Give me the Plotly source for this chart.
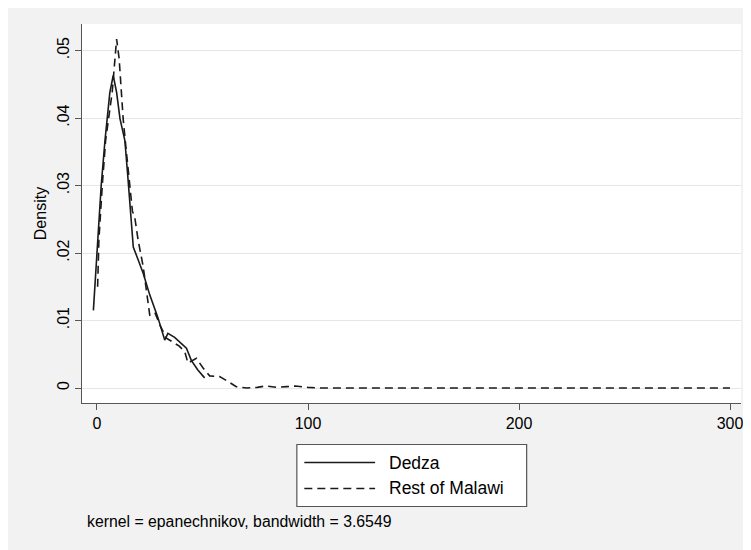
import plotly.graph_objects as go

# ---- data (kernel density estimates) ----
dedza_x = [-1.7, 0.3, 2.0, 3.8, 6.1, 7.7, 9.3, 10.9, 13.2, 14.5, 15.6, 16.9, 17.2,
           19.5, 21.9, 25.0, 28.8, 32.1, 33.6, 36.8, 40.0, 42.4, 44.7, 47.7, 51.0]
dedza_y = [0.0115, 0.0219, 0.0300, 0.0367, 0.0438, 0.0463, 0.0438, 0.0399, 0.0367, 0.0318,
           0.0268, 0.0219, 0.0209, 0.0190, 0.0170, 0.0138, 0.0105, 0.0071, 0.0081, 0.0075,
           0.0065, 0.0059, 0.0041, 0.0027, 0.0015]

rest_x = [0.3, 0.9, 2.5, 4.1, 7.2, 9.3, 10.5, 12.4, 13.6, 15.1, 16.8, 17.9, 19.5, 21.9,
          24.2, 25.0, 27.4, 30.0, 32.9, 36.0, 39.0, 41.6, 43.1, 47.1, 50.2, 53.4, 58.1,
          62.0, 66.0, 71.0, 76.0, 80.0, 85.0, 90.0, 94.0, 100.0, 106.0, 150.0, 200.0,
          250.0, 300.0]
rest_y = [0.0150, 0.0219, 0.0300, 0.0367, 0.0438, 0.0517, 0.0488, 0.0399, 0.0360, 0.0318,
          0.0262, 0.0253, 0.0219, 0.0180, 0.0120, 0.0108, 0.0112, 0.0092, 0.0074, 0.0068,
          0.0062, 0.0054, 0.0037, 0.0044, 0.0030, 0.0018, 0.0017, 0.0010, 0.0002, 0.0000,
          0.0001, 0.0003, 0.0001, 0.0002, 0.0003, 0.0001, 0.0000, 0.0000, 0.0000, 0.0000,
          0.0000]

series_names = ["Dedza", "Rest of Malawi"]
y_tickvals = [0, 0.01, 0.02, 0.03, 0.04, 0.05]
y_ticktext = ["0", ".01", ".02", ".03", ".04", ".05"]
x_tickvals = [0, 100, 200, 300]
note_text = "kernel = epanechnikov, bandwidth = 3.6549"

# figure sits inside the page's 8px body margin
W, H = 743, 542
ML, MR, MT, MB = 74, 8, 16, 147
PW, PH = W - ML - MR, H - MT - MB
OFF = 8  # page offset of the figure

FONT = "Liberation Sans, Arial, Helvetica, sans-serif"
INK = "#1a1a1a"
GRAY_BG = "#f2f2f2"

fig = go.Figure()
fig.add_trace(go.Scatter(x=dedza_x, y=dedza_y, mode="lines", name=series_names[0],
                         line=dict(color=INK, width=1.6), showlegend=False))
fig.add_trace(go.Scatter(x=rest_x, y=rest_y, mode="lines", name=series_names[1],
                         line=dict(color=INK, width=1.6, dash="8px,5px"), showlegend=False))


def px_x(p):
    """screen pixel x -> paper x"""
    return (p - OFF - ML) / PW


def px_y(p):
    """screen pixel y -> paper y"""
    return (MT + PH - (p - OFF)) / PH


shapes = [
    # legend box
    dict(type="rect", xref="paper", yref="paper", x0=px_x(297.5), x1=px_x(528),
         y0=px_y(506.5), y1=px_y(444.5), fillcolor="white",
         line=dict(color="#555555", width=1.2)),
    dict(type="line", xref="paper", yref="paper", x0=px_x(305), x1=px_x(376),
         y0=px_y(462.5), y1=px_y(462.5), line=dict(color=INK, width=1.6)),
    dict(type="line", xref="paper", yref="paper", x0=px_x(305), x1=px_x(376),
         y0=px_y(488.5), y1=px_y(488.5), line=dict(color=INK, width=1.6, dash="8px,5px")),
]

annotations = [
    dict(text=series_names[0], xref="paper", yref="paper", x=px_x(388), y=px_y(462.5),
         xanchor="left", yanchor="middle", showarrow=False,
         font=dict(family=FONT, size=17.5, color="black")),
    dict(text=series_names[1], xref="paper", yref="paper", x=px_x(388), y=px_y(488.5),
         xanchor="left", yanchor="middle", showarrow=False,
         font=dict(family=FONT, size=17.5, color="black")),
    dict(text=note_text, xref="paper", yref="paper", x=px_x(85), y=px_y(521),
         xanchor="left", yanchor="middle", showarrow=False,
         font=dict(family=FONT, size=15.8, color="black")),
]

fig.update_layout(
    width=W, height=H,
    margin=dict(l=ML, r=MR, t=MT, b=MB, pad=0),
    paper_bgcolor=GRAY_BG,
    plot_bgcolor="white",
    font=dict(family=FONT, size=16, color="black"),
    shapes=shapes,
    annotations=annotations,
    showlegend=False,
)
fig.update_xaxes(
    range=[-7.1, 305.2], tickvals=x_tickvals, showgrid=False, zeroline=False,
    showline=True, linecolor="#555555", linewidth=1,
    ticks="outside", ticklen=6, tickcolor="#555555", tickwidth=1,
    tickfont=dict(family=FONT, size=16, color="black"),
)
fig.update_yaxes(
    range=[-0.00222, 0.05393], tickvals=y_tickvals, ticktext=y_ticktext,
    showgrid=True, gridcolor="#e6e6e6", gridwidth=1, zeroline=False,
    showline=True, linecolor="#555555", linewidth=1,
    ticks="outside", ticklen=6, tickcolor="#555555", tickwidth=1,
    tickangle=-90, tickfont=dict(family=FONT, size=16, color="black"),
    title=dict(text="Density", font=dict(family=FONT, size=16, color="black"), standoff=3),
)

fig.write_html("out.html")
